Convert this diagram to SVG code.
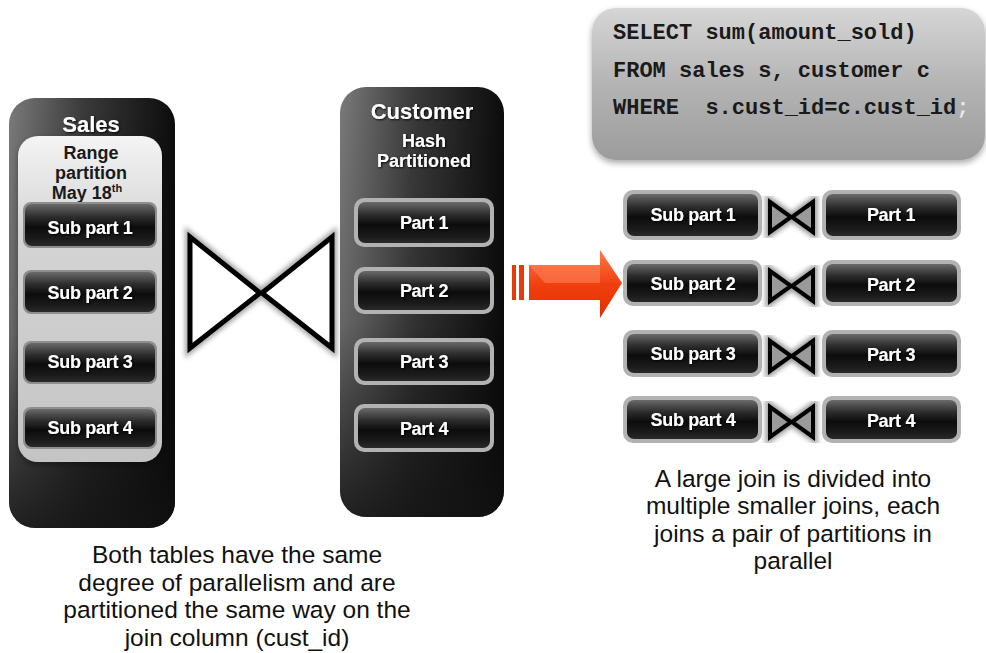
<svg xmlns="http://www.w3.org/2000/svg" width="986" height="653" viewBox="0 0 986 653">
  <defs>
    <linearGradient id="colGrad" x1="0" y1="0" x2="1" y2="0">
      <stop offset="0" stop-color="#7a7a7a"/>
      <stop offset="0.45" stop-color="#3a3a3a"/>
      <stop offset="1" stop-color="#0c0c0c"/>
    </linearGradient>
    <linearGradient id="colShade" x1="0" y1="0" x2="0" y2="1">
      <stop offset="0" stop-color="#000" stop-opacity="0"/>
      <stop offset="0.55" stop-color="#000" stop-opacity="0.15"/>
      <stop offset="1" stop-color="#111" stop-opacity="0.85"/>
    </linearGradient>
    <linearGradient id="panelGrad" x1="0" y1="0" x2="0" y2="1">
      <stop offset="0" stop-color="#f4f4f4"/>
      <stop offset="0.3" stop-color="#d4d4d4"/>
      <stop offset="1" stop-color="#c4c4c4"/>
    </linearGradient>
    <linearGradient id="btnGrad" x1="0" y1="0" x2="0" y2="1">
      <stop offset="0" stop-color="#6a6a6a"/>
      <stop offset="0.3" stop-color="#2e2e2e"/>
      <stop offset="0.55" stop-color="#0c0c0c"/>
      <stop offset="0.85" stop-color="#1c1c1c"/>
      <stop offset="1" stop-color="#2a2a2a"/>
    </linearGradient>
    <linearGradient id="sqlGrad" x1="0" y1="0" x2="0" y2="1">
      <stop offset="0" stop-color="#d6d6d6"/>
      <stop offset="0.5" stop-color="#b4b4b4"/>
      <stop offset="1" stop-color="#9c9c9c"/>
    </linearGradient>
    <linearGradient id="arrowGrad" x1="0" y1="0" x2="0" y2="1">
      <stop offset="0" stop-color="#ff7a4a"/>
      <stop offset="0.5" stop-color="#f04010"/>
      <stop offset="1" stop-color="#e03000"/>
    </linearGradient>
    <filter id="soft" x="-20%" y="-20%" width="140%" height="140%">
      <feGaussianBlur stdDeviation="2.5"/>
    </filter>
    <filter id="boxShadow" x="-10%" y="-10%" width="120%" height="130%">
      <feGaussianBlur in="SourceAlpha" stdDeviation="3"/>
      <feOffset dx="0" dy="3" result="b"/>
      <feComponentTransfer><feFuncA type="linear" slope="0.35"/></feComponentTransfer>
      <feMerge><feMergeNode/><feMergeNode in="SourceGraphic"/></feMerge>
    </filter>
    <filter id="txtShadow" x="-10%" y="-20%" width="120%" height="140%">
      <feGaussianBlur in="SourceAlpha" stdDeviation="0.8"/>
      <feOffset dx="1" dy="1"/>
      <feComponentTransfer><feFuncA type="linear" slope="0.9"/></feComponentTransfer>
      <feMerge><feMergeNode/><feMergeNode in="SourceGraphic"/></feMerge>
    </filter>
  </defs>
  <style>
    .btn { fill: url(#btnGrad); }
    .btnRim { fill: #b2b2b2; }
    .btnRimIn { fill: #8e8e8e; }
    .lbl { font-family: "Liberation Sans", Arial, sans-serif; font-weight: bold; font-size: 18px; fill: #ffffff; text-anchor: middle; letter-spacing: -0.3px; }
    .title { font-family: "Liberation Sans", Arial, sans-serif; font-weight: bold; font-size: 22px; fill: #ffffff; text-anchor: middle; }
    .sub { font-family: "Liberation Sans", Arial, sans-serif; font-weight: bold; font-size: 18px; text-anchor: middle; }
    .cap { font-family: "Liberation Sans", Arial, sans-serif; font-size: 24.5px; fill: #111; text-anchor: middle; }
    .sql { font-family: "Liberation Mono", "Courier New", monospace; font-weight: bold; font-size: 22px; fill: #1a1a1a; }
    .bow { fill: #9a9a9a; stroke: #000; stroke-width: 4; stroke-linejoin: miter; }
    .bowGlow { fill: none; stroke: #555; stroke-width: 9; opacity: 0.6; }
  </style>

  <rect width="986" height="653" fill="#ffffff"/>

  <!-- Sales table -->
  <g id="sales">
    <rect x="9" y="98" width="166" height="430" rx="26" fill="url(#colGrad)"/>
    <rect x="9" y="98" width="166" height="430" rx="26" fill="url(#colShade)"/>
    <text class="title" x="91" y="132" filter="url(#txtShadow)">Sales</text>
    <rect x="18" y="136" width="144" height="326" rx="20" fill="url(#panelGrad)" filter="url(#boxShadow)"/>
    <text class="sub" x="91" y="159" fill="#1a1a1a">Range</text>
    <text class="sub" x="91" y="179" fill="#1a1a1a">partition</text>
    <text class="sub" x="87" y="199" fill="#1a1a1a">May 18<tspan font-size="11" dy="-7">th</tspan></text>
  </g>
  <g id="sales-sub1">
    <rect class="btnRimIn" x="23" y="202" width="134" height="46" rx="8"/>
    <rect class="btn" x="25" y="204" width="130" height="42" rx="7"/>
    <text class="lbl" x="90" y="234" filter="url(#txtShadow)">Sub part 1</text>
  </g>
  <g id="sales-sub2">
    <rect class="btnRimIn" x="23" y="270" width="134" height="44" rx="8"/>
    <rect class="btn" x="25" y="272" width="130" height="40" rx="7"/>
    <text class="lbl" x="90" y="299" filter="url(#txtShadow)">Sub part 2</text>
  </g>
  <g id="sales-sub3">
    <rect class="btnRimIn" x="23" y="341" width="134" height="43" rx="8"/>
    <rect class="btn" x="25" y="343" width="130" height="39" rx="7"/>
    <text class="lbl" x="90" y="368" filter="url(#txtShadow)">Sub part 3</text>
  </g>
  <g id="sales-sub4">
    <rect class="btnRimIn" x="23" y="407" width="134" height="42" rx="8"/>
    <rect class="btn" x="25" y="409" width="130" height="38" rx="7"/>
    <text class="lbl" x="90" y="434" filter="url(#txtShadow)">Sub part 4</text>
  </g>

  <!-- Customer table -->
  <g id="customer">
    <rect x="340" y="87" width="164" height="430" rx="26" fill="url(#colGrad)"/>
    <rect x="340" y="87" width="164" height="430" rx="26" fill="url(#colShade)"/>
    <text class="title" x="422" y="119" font-size="23" filter="url(#txtShadow)">Customer</text>
    <text class="sub" x="424" y="147" fill="#ffffff" filter="url(#txtShadow)">Hash</text>
    <text class="sub" x="424" y="167" fill="#ffffff" filter="url(#txtShadow)">Partitioned</text>
  </g>
  <g id="cust-part1">
    <rect class="btnRim" x="354" y="198" width="140" height="49" rx="10"/>
    <rect class="btn" x="358" y="202" width="132" height="41" rx="7"/>
    <text class="lbl" x="424" y="229" filter="url(#txtShadow)">Part 1</text>
  </g>
  <g id="cust-part2">
    <rect class="btnRim" x="354" y="267" width="140" height="47" rx="10"/>
    <rect class="btn" x="358" y="271" width="132" height="39" rx="7"/>
    <text class="lbl" x="424" y="297" filter="url(#txtShadow)">Part 2</text>
  </g>
  <g id="cust-part3">
    <rect class="btnRim" x="354" y="338" width="140" height="47" rx="10"/>
    <rect class="btn" x="358" y="342" width="132" height="39" rx="7"/>
    <text class="lbl" x="424" y="368" filter="url(#txtShadow)">Part 3</text>
  </g>
  <g id="cust-part4">
    <rect class="btnRim" x="354" y="404" width="140" height="48" rx="10"/>
    <rect class="btn" x="358" y="408" width="132" height="40" rx="7"/>
    <text class="lbl" x="424" y="435" filter="url(#txtShadow)">Part 4</text>
  </g>

  <!-- Join symbol between the two tables -->
  <g id="join-big">
    <path d="M190,237 L260,293 L190,348 Z M332,237 L262,293 L332,348 Z" fill="none" stroke="#666" stroke-width="10" filter="url(#soft)" opacity="0.6"/>
    <path d="M190,237 L260,293 L190,348 Z M332,237 L262,293 L332,348 Z" fill="#ffffff" stroke="#000" stroke-width="5" stroke-linejoin="miter"/>
  </g>

  <!-- SQL query -->
  <g id="sql">
    <rect x="592" y="8" width="393" height="152" rx="24" fill="url(#sqlGrad)" filter="url(#boxShadow)"/>
    <text class="sql" x="613" y="39">SELECT sum(amount_sold)</text>
    <text class="sql" x="613" y="77">FROM sales s, customer c</text>
    <text class="sql" x="613" y="114" xml:space="preserve">WHERE  s.cust_id=c.cust_id<tspan fill="#e8e8e8">;</tspan></text>
  </g>

  <!-- Pairwise joins -->
  <g id="pair1">
    <rect class="btnRim" x="623" y="190" width="139" height="50" rx="10"/>
    <rect class="btn" x="627" y="194" width="131" height="42" rx="7"/>
    <text class="lbl" x="693" y="221" filter="url(#txtShadow)">Sub part 1</text>
    <path class="bowGlow" d="M770,202 L791,217 L770,232 Z M813,202 L792,217 L813,232 Z" filter="url(#soft)"/>
    <path class="bow" d="M770,202 L791,217 L770,232 Z M813,202 L792,217 L813,232 Z"/>
    <rect class="btnRim" x="822" y="190" width="139" height="50" rx="10"/>
    <rect class="btn" x="826" y="194" width="131" height="42" rx="7"/>
    <text class="lbl" x="891" y="221" filter="url(#txtShadow)">Part 1</text>
  </g>
  <g id="pair2">
    <rect class="btnRim" x="623" y="260" width="139" height="46" rx="10"/>
    <rect class="btn" x="627" y="264" width="131" height="38" rx="7"/>
    <text class="lbl" x="693" y="290" filter="url(#txtShadow)">Sub part 2</text>
    <path class="bowGlow" d="M770,271 L791,286 L770,301 Z M813,271 L792,286 L813,301 Z" filter="url(#soft)"/>
    <path class="bow" d="M770,271 L791,286 L770,301 Z M813,271 L792,286 L813,301 Z"/>
    <rect class="btnRim" x="822" y="260" width="139" height="46" rx="10"/>
    <rect class="btn" x="826" y="264" width="131" height="38" rx="7"/>
    <text class="lbl" x="891" y="291" filter="url(#txtShadow)">Part 2</text>
  </g>
  <g id="pair3">
    <rect class="btnRim" x="623" y="330" width="139" height="47" rx="10"/>
    <rect class="btn" x="627" y="334" width="131" height="39" rx="7"/>
    <text class="lbl" x="693" y="360" filter="url(#txtShadow)">Sub part 3</text>
    <path class="bowGlow" d="M770,341 L791,356 L770,371 Z M813,341 L792,356 L813,371 Z" filter="url(#soft)"/>
    <path class="bow" d="M770,341 L791,356 L770,371 Z M813,341 L792,356 L813,371 Z"/>
    <rect class="btnRim" x="822" y="330" width="139" height="47" rx="10"/>
    <rect class="btn" x="826" y="334" width="131" height="39" rx="7"/>
    <text class="lbl" x="891" y="361" filter="url(#txtShadow)">Part 3</text>
  </g>
  <g id="pair4">
    <rect class="btnRim" x="623" y="396" width="139" height="47" rx="10"/>
    <rect class="btn" x="627" y="400" width="131" height="39" rx="7"/>
    <text class="lbl" x="693" y="426" filter="url(#txtShadow)">Sub part 4</text>
    <path class="bowGlow" d="M770,407 L791,422 L770,437 Z M813,407 L792,422 L813,437 Z" filter="url(#soft)"/>
    <path class="bow" d="M770,407 L791,422 L770,437 Z M813,407 L792,422 L813,437 Z"/>
    <rect class="btnRim" x="822" y="396" width="139" height="47" rx="10"/>
    <rect class="btn" x="826" y="400" width="131" height="39" rx="7"/>
    <text class="lbl" x="891" y="427" filter="url(#txtShadow)">Part 4</text>
  </g>

  <!-- Transition arrow -->
  <g id="connectors">
    <rect x="512" y="265" width="4" height="35" fill="#e83a08"/>
    <rect x="519" y="265" width="5" height="35" fill="#e83a08"/>
    <path d="M529,265 L600,265 L600,250 L622,283 L600,318 L600,300 L529,300 Z" fill="url(#arrowGrad)"/>
    <path d="M529,265 L600,265 L600,283 L545,283 Z" fill="#ff8a60" opacity="0.5"/>
  </g>

  <!-- Captions -->
  <g id="caption-left">
    <text class="cap" x="237" y="563">Both tables have the same</text>
    <text class="cap" x="237" y="591">degree of parallelism and are</text>
    <text class="cap" x="237" y="618">partitioned the same way on the</text>
    <text class="cap" x="237" y="646">join column (cust_id)</text>
  </g>
  <g id="caption-right">
    <text class="cap" x="793" y="487">A large join is divided into</text>
    <text class="cap" x="793" y="514">multiple smaller joins, each</text>
    <text class="cap" x="793" y="542">joins a pair of partitions in</text>
    <text class="cap" x="793" y="569">parallel</text>
  </g>
</svg>
